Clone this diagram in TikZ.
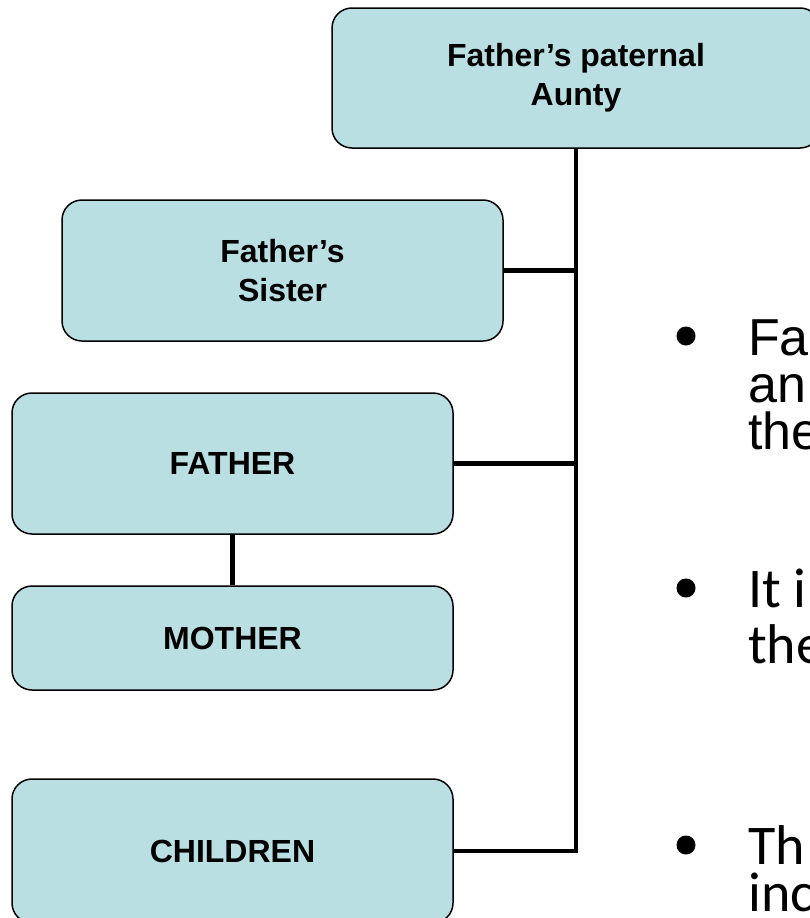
\documentclass[tikz,border=0pt]{standalone}
\usepackage{fontspec}
\setmainfont{Liberation Sans}
\newfontfamily\calib{Carlito}
\definecolor{boxfill}{HTML}{BADFE2}
\tikzset{
  member/.style={draw, line width=1.5pt, fill=boxfill, rounded corners=20pt,
    minimum width=441pt, align=center, font=\fontsize{32}{39}\selectfont\bfseries},
  link/.style={line width=4.5pt},
  dot/.style={circle, fill, inner sep=0pt, minimum size=19pt},
  point/.style={anchor=base west, inner sep=0pt, font=\fontsize{52}{52}\selectfont},
  point2/.style={point, font=\fontsize{56}{56}\selectfont\calib}
}

\begin{document}
\begin{tikzpicture}[x=1pt, y=-1pt]
        \useasboundingbox (0,0) rectangle (810,918);
        \clip (0,0) rectangle (810,918);

        \node (aunty) [member, minimum width=488pt, minimum height=140pt] at (576,78) {Father’s paternal\\Aunty};
        \node (sister) [member, minimum height=141pt] at (282.5,270.5) {Father’s\\Sister};
        \node (father) [member, minimum height=141pt] at (232.5,463.5) {FATHER};
        \node (mother) [member, minimum height=104pt] at (232.5,638) {MOTHER};
        \node (children) [member, minimum height=144pt] at (232.5,851) {CHILDREN};

        \draw [link] (aunty.south) |- (children.east);
        \draw [link] (sister.east) -- (sister.east -| aunty.south);
        \draw [link] (father.east) -- (father.east -| aunty.south);
        \draw [link] (father.south) -- (mother.north);

        % bullet points, cut off at the right edge
        \node (b1) [dot] at (686,336) {};
        \node (l1) [point] at (748,355) {Fa};
        \node (l2) [point] at (748,402) {an};
        \node (l3) [point] at (748,449) {the};
        \node (b2) [dot] at (686,588) {};
        \node (l4) [point2] at (748,607) {It i};
        \node (l5) [point2] at (748,663) {the};
        \node (b3) [dot] at (686,845) {};
        \node (l6) [point2] at (748,864) {Th};
        \node (l7) [point2] at (748,911) {inc};
    \end{tikzpicture}
\end{document}
